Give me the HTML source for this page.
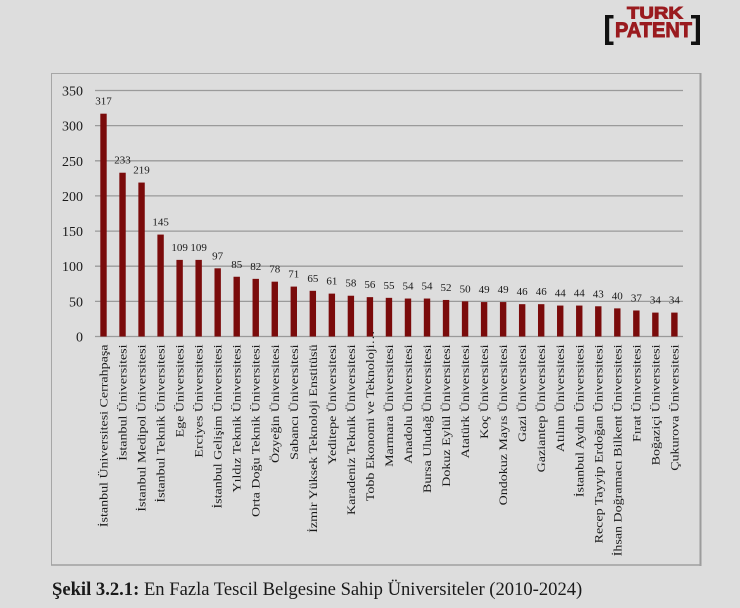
<!DOCTYPE html>
<html><head><meta charset="utf-8"><style>
html,body{margin:0;padding:0;background:#dddddd;}
svg{display:block;}
text{font-family:"Liberation Serif","Times New Roman",serif;fill:#1a1a1a;}
</style></head><body>
<svg width="740" height="608" viewBox="0 0 740 608" xmlns="http://www.w3.org/2000/svg">
<rect x="0" y="0" width="740" height="608" fill="#dddddd"/>
<!-- logo -->
<g>
<text x="627" y="18.3" font-weight="bold" font-size="17" textLength="56" lengthAdjust="spacingAndGlyphs" stroke="#9a1b1f" stroke-width="0.9" style="font-family:'Liberation Sans',sans-serif;fill:#9a1b1f">TURK</text>
<text x="615" y="37" font-weight="bold" font-size="21.5" textLength="77" lengthAdjust="spacingAndGlyphs" stroke="#9a1b1f" stroke-width="0.9" style="font-family:'Liberation Sans',sans-serif;fill:#9a1b1f">PATENT</text>
<path d="M605 15 H613.5 V18.5 H609.2 V41.5 H613.5 V45 H605 Z" fill="#111"/>
<path d="M700 15 H691 V18.5 H695.8 V41.5 H691 V45 H700 Z" fill="#111"/>
</g>
<!-- chart box -->
<rect x="51.5" y="73.5" width="649" height="491.5" fill="#dddddd" stroke="#a6a6a6" stroke-width="1"/>
<line x1="700.5" y1="73" x2="700.5" y2="566" stroke="#9c9c9c" stroke-width="2"/>
<line x1="51" y1="565" x2="701" y2="565" stroke="#a0a0a0" stroke-width="1.6"/>
<!-- gridlines -->
<g stroke="#9a9a9a" stroke-width="1.3">
<line x1="95" y1="90.5" x2="683" y2="90.5"/>
<line x1="95" y1="125.6" x2="683" y2="125.6"/>
<line x1="95" y1="160.8" x2="683" y2="160.8"/>
<line x1="95" y1="195.9" x2="683" y2="195.9"/>
<line x1="95" y1="231.1" x2="683" y2="231.1"/>
<line x1="95" y1="266.2" x2="683" y2="266.2"/>
<line x1="95" y1="301.4" x2="683" y2="301.4"/>
<line x1="95" y1="336.5" x2="683" y2="336.5"/>
</g>
<!-- y ticks -->
<g font-size="14" text-anchor="end">
<text x="83" y="95.5">350</text>
<text x="83" y="130.6">300</text>
<text x="83" y="165.8">250</text>
<text x="83" y="200.9">200</text>
<text x="83" y="236.1">150</text>
<text x="83" y="271.2">100</text>
<text x="83" y="306.4">50</text>
<text x="83" y="341.5">0</text>
</g>
<!-- bars -->
<g fill="#7a0b0b">
<rect x="100.3" y="113.68" width="6.4" height="222.82"/>
<rect x="119.33" y="172.72" width="6.4" height="163.78"/>
<rect x="138.36" y="182.56" width="6.4" height="153.94"/>
<rect x="157.39" y="234.58" width="6.4" height="101.92"/>
<rect x="176.42" y="259.88" width="6.4" height="76.62"/>
<rect x="195.45" y="259.88" width="6.4" height="76.62"/>
<rect x="214.48" y="268.32" width="6.4" height="68.18"/>
<rect x="233.51" y="276.75" width="6.4" height="59.75"/>
<rect x="252.54" y="278.86" width="6.4" height="57.64"/>
<rect x="271.57" y="281.67" width="6.4" height="54.83"/>
<rect x="290.6" y="286.59" width="6.4" height="49.91"/>
<rect x="309.63" y="290.81" width="6.4" height="45.69"/>
<rect x="328.66" y="293.62" width="6.4" height="42.88"/>
<rect x="347.69" y="295.73" width="6.4" height="40.77"/>
<rect x="366.72" y="297.14" width="6.4" height="39.36"/>
<rect x="385.75" y="297.84" width="6.4" height="38.66"/>
<rect x="404.78" y="298.54" width="6.4" height="37.96"/>
<rect x="423.81" y="298.54" width="6.4" height="37.96"/>
<rect x="442.84" y="299.95" width="6.4" height="36.55"/>
<rect x="461.87" y="301.35" width="6.4" height="35.15"/>
<rect x="480.9" y="302.06" width="6.4" height="34.44"/>
<rect x="499.93" y="302.06" width="6.4" height="34.44"/>
<rect x="518.96" y="304.17" width="6.4" height="32.33"/>
<rect x="537.99" y="304.17" width="6.4" height="32.33"/>
<rect x="557.02" y="305.57" width="6.4" height="30.93"/>
<rect x="576.05" y="305.57" width="6.4" height="30.93"/>
<rect x="595.08" y="306.28" width="6.4" height="30.22"/>
<rect x="614.11" y="308.38" width="6.4" height="28.12"/>
<rect x="633.14" y="310.49" width="6.4" height="26.01"/>
<rect x="652.17" y="312.6" width="6.4" height="23.9"/>
<rect x="671.2" y="312.6" width="6.4" height="23.9"/>
</g>
<!-- data labels -->
<g font-size="11" text-anchor="middle">
<text x="103.5" y="104.68">317</text>
<text x="122.53" y="163.72">233</text>
<text x="141.56" y="173.56">219</text>
<text x="160.59" y="225.58">145</text>
<text x="179.62" y="250.88">109</text>
<text x="198.65" y="250.88">109</text>
<text x="217.68" y="259.32">97</text>
<text x="236.71" y="267.75">85</text>
<text x="255.74" y="269.86">82</text>
<text x="274.77" y="272.67">78</text>
<text x="293.8" y="277.59">71</text>
<text x="312.83" y="281.81">65</text>
<text x="331.86" y="284.62">61</text>
<text x="350.89" y="286.73">58</text>
<text x="369.92" y="288.14">56</text>
<text x="388.95" y="288.84">55</text>
<text x="407.98" y="289.54">54</text>
<text x="427.01" y="289.54">54</text>
<text x="446.04" y="290.95">52</text>
<text x="465.07" y="292.35">50</text>
<text x="484.1" y="293.06">49</text>
<text x="503.13" y="293.06">49</text>
<text x="522.16" y="295.17">46</text>
<text x="541.19" y="295.17">46</text>
<text x="560.22" y="296.57">44</text>
<text x="579.25" y="296.57">44</text>
<text x="598.28" y="297.28">43</text>
<text x="617.31" y="299.38">40</text>
<text x="636.34" y="301.49">37</text>
<text x="655.37" y="303.6">34</text>
<text x="674.4" y="303.6">34</text>
</g>
<!-- x labels -->
<g font-size="14" text-anchor="end" style="font-family:'Liberation Serif','Noto Serif CJK SC',serif">
<text transform="translate(103.5,344.5) rotate(-90) scale(1,0.85)" y="4.7">İstanbul Üniversitesi Cerrahpaşa</text>
<text transform="translate(122.53,344.5) rotate(-90) scale(1,0.85)" y="4.7">İstanbul Üniversitesi</text>
<text transform="translate(141.56,344.5) rotate(-90) scale(1,0.85)" y="4.7">İstanbul Medipol Üniversitesi</text>
<text transform="translate(160.59,344.5) rotate(-90) scale(1,0.85)" y="4.7">İstanbul Teknik Üniversitesi</text>
<text transform="translate(179.62,344.5) rotate(-90) scale(1,0.85)" y="4.7">Ege Üniversitesi</text>
<text transform="translate(198.65,344.5) rotate(-90) scale(1,0.85)" y="4.7">Erciyes Üniversitesi</text>
<text transform="translate(217.68,344.5) rotate(-90) scale(1,0.85)" y="4.7">İstanbul Gelişim Üniversitesi</text>
<text transform="translate(236.71,344.5) rotate(-90) scale(1,0.85)" y="4.7">Yıldız Teknik Üniversitesi</text>
<text transform="translate(255.74,344.5) rotate(-90) scale(1,0.85)" y="4.7">Orta Doğu Teknik Üniversitesi</text>
<text transform="translate(274.77,344.5) rotate(-90) scale(1,0.85)" y="4.7">Özyeğin Üniversitesi</text>
<text transform="translate(293.8,344.5) rotate(-90) scale(1,0.85)" y="4.7">Sabancı Üniversitesi</text>
<text transform="translate(312.83,344.5) rotate(-90) scale(1,0.85)" y="4.7">İzmir Yüksek Teknoloji Enstitüsü</text>
<text transform="translate(331.86,344.5) rotate(-90) scale(1,0.85)" y="4.7">Yeditepe Üniversitesi</text>
<text transform="translate(350.89,344.5) rotate(-90) scale(1,0.85)" y="4.7">Karadeniz Teknik Üniversitesi</text>
<text transform="translate(369.92,344.5) rotate(-90) scale(1,0.85)" y="4.7">Tobb Ekonomi ve Teknoloji</text>
<text transform="translate(369.92,344.5) rotate(-90) scale(1,0.85)" y="4.7" text-anchor="start">…</text>
<text transform="translate(388.95,344.5) rotate(-90) scale(1,0.85)" y="4.7">Marmara Üniversitesi</text>
<text transform="translate(407.98,344.5) rotate(-90) scale(1,0.85)" y="4.7">Anadolu Üniversitesi</text>
<text transform="translate(427.01,344.5) rotate(-90) scale(1,0.85)" y="4.7">Bursa Uludağ Üniversitesi</text>
<text transform="translate(446.04,344.5) rotate(-90) scale(1,0.85)" y="4.7">Dokuz Eylül Üniversitesi</text>
<text transform="translate(465.07,344.5) rotate(-90) scale(1,0.85)" y="4.7">Atatürk Üniversitesi</text>
<text transform="translate(484.1,344.5) rotate(-90) scale(1,0.85)" y="4.7">Koç Üniversitesi</text>
<text transform="translate(503.13,344.5) rotate(-90) scale(1,0.85)" y="4.7">Ondokuz Mayıs Üniversitesi</text>
<text transform="translate(522.16,344.5) rotate(-90) scale(1,0.85)" y="4.7">Gazi Üniversitesi</text>
<text transform="translate(541.19,344.5) rotate(-90) scale(1,0.85)" y="4.7">Gaziantep Üniversitesi</text>
<text transform="translate(560.22,344.5) rotate(-90) scale(1,0.85)" y="4.7">Atılım Üniversitesi</text>
<text transform="translate(579.25,344.5) rotate(-90) scale(1,0.85)" y="4.7">İstanbul Aydın Üniversitesi</text>
<text transform="translate(598.28,344.5) rotate(-90) scale(1,0.85)" y="4.7">Recep Tayyip Erdoğan Üniversitesi</text>
<text transform="translate(617.31,344.5) rotate(-90) scale(1,0.85)" y="4.7">İhsan Doğramacı Bilkent Üniversitesi</text>
<text transform="translate(636.34,344.5) rotate(-90) scale(1,0.85)" y="4.7">Fırat Üniversitesi</text>
<text transform="translate(655.37,344.5) rotate(-90) scale(1,0.85)" y="4.7">Boğaziçi Üniversitesi</text>
<text transform="translate(674.4,344.5) rotate(-90) scale(1,0.85)" y="4.7">Çukurova Üniversitesi</text>
</g>
<!-- caption -->
<text x="52" y="595" font-size="18.6"><tspan font-weight="bold">Şekil 3.2.1:</tspan> En Fazla Tescil Belgesine Sahip Üniversiteler (2010-2024)</text>
</svg>
</body></html>
